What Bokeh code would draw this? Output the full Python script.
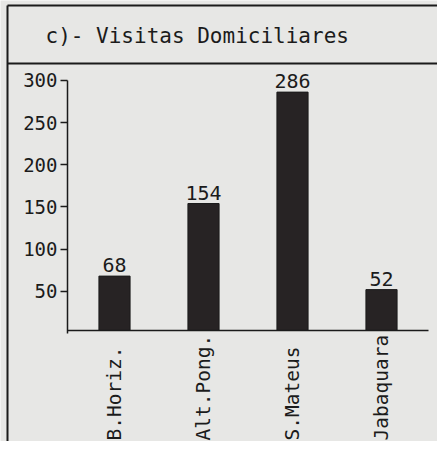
import numpy as np
from bokeh.plotting import figure
from bokeh.models import Range1d, LinearAxis, FixedTicker, ColumnDataSource
from bokeh.core.properties import value
from bokeh.embed import file_html
from bokeh.resources import INLINE

# ---- data ----
title_text = "c)- Visitas Domiciliares"
categories = ["B.Horiz.", "Alt.Pong.", "S.Mateus", "Jabaquara"]
visits = [68, 154, 286, 52]
y_ticks = [50, 100, 150, 200, 250, 300]

# ---- layout ----
W, H = 437, 441
PX_PER_UNIT = 0.844     # vertical pixels per data unit
ZERO_PX = 333           # pixel row of value 0
X0_PX, X_STEP = 25, 89  # pixel col of x=0, pixels per category


def fy(py):
    return (ZERO_PX - py) / PX_PER_UNIT


def fx(px):
    return (px - X0_PX) / X_STEP


BG = "#e7e7e5"
INK = "#1b1b1b"
BAR = "#272324"
FONT = value("DejaVu Sans Mono")

xs = [i + 1 for i in range(len(categories))]
src = ColumnDataSource(dict(x=xs, v=visits, lab=[str(v) for v in visits], cat=categories))

p = figure(width=W, height=H, output_backend="svg", toolbar_location=None,
           x_range=Range1d(fx(0), fx(W)), y_range=Range1d(fy(H), fy(0)),
           min_border=0, x_axis_type=None, y_axis_type=None)
p.background_fill_color = BG
p.border_fill_color = BG
p.outline_line_color = None

# y axis
yaxis = LinearAxis(fixed_location=fx(67), ticker=FixedTicker(ticks=y_ticks), bounds=(0, 300))
yaxis.axis_line_color = INK
yaxis.axis_line_width = 1.5
yaxis.major_tick_line_color = INK
yaxis.major_tick_line_width = 1.5
yaxis.major_tick_out = 7
yaxis.major_tick_in = 0
yaxis.minor_tick_line_color = None
yaxis.major_label_text_font = "DejaVu Sans Mono"
yaxis.major_label_text_font_size = "19px"
yaxis.major_label_text_color = INK
yaxis.major_label_standoff = 3
p.add_layout(yaxis, "left")

# baseline axis
xaxis = LinearAxis(fixed_location=fy(330), ticker=FixedTicker(ticks=[]), bounds=(fx(67), fx(428)))
xaxis.axis_line_color = INK
xaxis.axis_line_width = 1.5
xaxis.major_tick_line_color = None
xaxis.minor_tick_line_color = None
xaxis.major_label_text_font_size = "0px"
p.add_layout(xaxis, "below")

# bars
p.vbar(x="x", top="v", bottom=fy(330), width=0.35, source=src,
       fill_color=BAR, line_color=INK, line_width=1)

# value labels
p.text(x="x", y="v", text="lab", source=src, text_align="center",
       text_baseline="bottom", y_offset=-4, text_font=FONT,
       text_font_size="20px", text_color=INK)

# rotated category labels
p.text(x="x", y=fy(440), text="cat", source=src, angle=np.pi / 2,
       text_align="left", text_baseline="middle", text_font=FONT,
       text_font_size="19.5px", text_color=INK)

# title box
p.text(x=[fx(45)], y=[fy(35)], text=[title_text], text_align="left",
       text_baseline="middle", text_font=FONT, text_font_size="21px",
       text_color=INK)
p.segment(x0=[fx(7), fx(7), fx(7)], y0=[fy(5), fy(63), fy(5)],
          x1=[fx(W), fx(W), fx(7)], y1=[fy(5), fy(63), fy(H)],
          line_color=INK, line_width=2)

open("out.html", "w").write(file_html(p, INLINE))
